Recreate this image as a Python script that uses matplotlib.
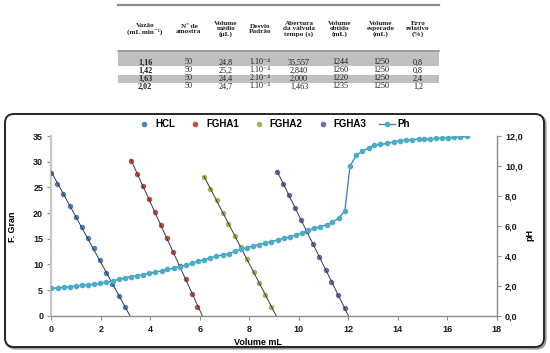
import numpy as np
import matplotlib
matplotlib.use("Agg")
import matplotlib.pyplot as plt
from matplotlib.lines import Line2D
from matplotlib.patches import FancyBboxPatch, Rectangle
from matplotlib.ticker import FuncFormatter

plt.rcParams['font.family'] = ['Liberation Sans', 'DejaVu Sans']
plt.rcParams['mathtext.fontset'] = 'stix'

# ---- table data ----
headers = ["Vazão\n(mL min⁻¹)", "Nº de\namostra", "Volume\nmédio\n(μL)", "Desvio\nPadrão",
           "Abertura\nda válvula\ntempo (s)", "Volume\nobtido\n(mL)", "Volume\nesperado\n(mL)",
           "Erro\nrelativo\n(%)"]
vazao = ["1,16", "1,42", "1,63", "2,02"]
n_amostra = ["50", "50", "50", "50"]
vol_medio = ["24,8", "25,2", "24,4", "24,7"]
desvio = ["1.10⁻⁴", "1.10⁻⁴", "2.10⁻⁴", "1.10⁻⁴"]
abertura = ["35,557", "2,840", "2,000", "1,463"]
vol_obtido = ["1244", "1260", "1220", "1235"]
vol_esperado = ["1250", "1250", "1250", "1250"]
erro = ["0,8", "0,8", "2,4", "1,2"]

# ---- chart data ----
hcl_x = [0, 0.24, 0.48, 0.75, 0.99, 1.23, 1.49, 1.72, 1.96, 2.2, 2.46, 2.72, 2.96]
hcl_y = [27.7, 25.6, 23.7, 21.4, 19.3, 17.35, 15.1, 13.1, 10.8, 8.4, 6.2, 3.9, 1.6]

fgha1_x = [3.2, 3.45, 3.69, 3.96, 4.2, 4.42, 4.68, 4.93, 5.2, 5.44, 5.67, 5.9]
fgha1_y = [30.2, 27.6, 25.2, 22.7, 20.2, 17.7, 15.05, 12.45, 9.7, 7.15, 4.2, 1.6]

fgha2_x = [6.17, 6.41, 6.68, 6.93, 7.15, 7.4, 7.68, 7.9, 8.18, 8.41, 8.62, 8.87]
fgha2_y = [27.0, 24.7, 22.55, 20.1, 17.85, 15.6, 13.35, 11.1, 8.6, 6.4, 4.1, 1.75]

fgha3_x = [9.11, 9.38, 9.61, 9.86, 10.09, 10.33, 10.59, 10.83, 11.1, 11.31, 11.58, 11.85]
fgha3_y = [27.9, 25.6, 23.5, 21.0, 18.7, 16.5, 14.0, 11.5, 8.9, 6.5, 4.0, 1.5]

ph_x = [0, 0.25, 0.49, 0.74, 0.99, 1.24, 1.48, 1.73, 1.98, 2.22, 2.47, 2.72, 2.96, 3.21,
        3.46, 3.71, 3.95, 4.2, 4.45, 4.69, 4.94, 5.19, 5.43, 5.68, 5.93, 6.18, 6.42, 6.67,
        6.92, 7.16, 7.41, 7.66, 7.9, 8.15, 8.4, 8.65, 8.89, 9.14, 9.39, 9.63, 9.88, 10.13,
        10.37, 10.62, 10.87, 11.12, 11.36, 11.61, 11.86,
        12.07, 12.32, 12.55, 12.82, 13.05, 13.3, 13.58, 13.85, 14.1, 14.34, 14.57, 14.84,
        15.07, 15.3, 15.55, 15.78, 16.05, 16.28, 16.52, 16.8]
ph_y = [1.82, 1.86, 1.90, 1.94, 1.99, 2.03, 2.07, 2.12, 2.16, 2.23, 2.32, 2.42, 2.52, 2.61,
        2.68, 2.75, 2.83, 2.91, 3.0, 3.09, 3.17, 3.27, 3.38, 3.5, 3.63, 3.75, 3.86, 3.96,
        4.06, 4.13, 4.29, 4.44, 4.54, 4.65, 4.75, 4.85, 4.95, 5.06, 5.16, 5.26, 5.4, 5.52,
        5.69, 5.83, 5.95, 6.07, 6.24, 6.51, 6.99,
        10.0, 10.7, 10.97, 11.2, 11.37, 11.44, 11.5, 11.62, 11.7, 11.74, 11.76, 11.78,
        11.79, 11.8, 11.84, 11.86, 11.89, 11.91, 11.94, 11.98]

fig = plt.figure(figsize=(5.5, 3.53), dpi=100)

# background layer in pixel units: table + rounded chart frame
bg = fig.add_axes([0, 0, 1, 1])
bg.set_xlim(0, 550)
bg.set_ylim(353, 0)
bg.axis('off')

serif = ['Liberation Serif', 'DejaVu Serif']
bg.plot([118, 439], [5, 5], color='#8c8c8c', lw=1.6)
bg.add_patch(Rectangle((118, 50), 321, 16, fc='#c0c0c0', ec='none'))
bg.plot([118, 439], [50.5, 50.5], color='#999999', lw=1.2)
bg.add_patch(Rectangle((118, 74.5), 321, 8, fc='#c0c0c0', ec='none'))

col_x = [145, 189, 226, 260, 299, 340, 381, 418]
for cx, h in zip(col_x, headers):
    bg.text(cx, 29, h, family=serif, fontsize=5.2, fontweight='bold',
            ha='center', va='center', linespacing=1.0, color='#1e1e1e')

columns = [vazao, n_amostra, vol_medio, desvio, abertura, vol_obtido, vol_esperado, erro]
row_y = [62.5, 70.5, 78.5, 86.5]
for ci, (cx, col) in enumerate(zip(col_x, columns)):
    for ry, val in zip(row_y, col):
        bg.text(cx, ry, val, family=serif, fontsize=5.9,
                fontweight='bold' if ci == 0 else 'normal',
                ha='center', va='center', color='#1e1e1e')

bg.add_patch(FancyBboxPatch((6.5, 115.5), 539, 233, boxstyle='round,pad=0,rounding_size=9',
                            lw=1.6, ec='#9a9a9a', fc='none'))
bg.add_patch(FancyBboxPatch((5, 114), 539, 233, boxstyle='round,pad=0,rounding_size=9',
                            lw=1.4, ec='#262626', fc='white'))

# chart
ax = fig.add_axes([0.0936, 0.1057, 0.8095, 0.509])
ax.patch.set_alpha(0)
ax2 = ax.twinx()

colors = {'HCL': '#4f81bd', 'FGHA1': '#c0504d', 'FGHA2': '#9bbb59', 'FGHA3': '#8064a2'}
series = [('HCL', hcl_x, hcl_y), ('FGHA1', fgha1_x, fgha1_y),
          ('FGHA2', fgha2_x, fgha2_y), ('FGHA3', fgha3_x, fgha3_y)]
for name, xs, ys in series:
    ax.plot(xs, ys, 'o', ms=2.9, color=colors[name], mec=colors[name], zorder=3)
    a, b = np.polyfit(xs, ys, 1)
    x_end = -b / a
    tx = np.array([xs[0], x_end])
    ax.plot(tx, a * tx + b, color='#3a3a3a', lw=0.7, zorder=4)

ax2.plot(ph_x, ph_y, '-', color='#4f81bd', lw=1.0, zorder=2)
ax2.plot(ph_x, ph_y, 'o', ms=3.0, color='#4bacc6', mec='#4bacc6', zorder=3)

ax.set_xlim(0, 18)
ax.set_ylim(0, 35)
ax2.set_ylim(0, 12)
ax.set_xticks(np.arange(0, 19, 2))
ax.set_yticks(np.arange(0, 36, 5))
ax2.set_yticks(np.arange(0, 13, 2))
ax2.yaxis.set_major_formatter(FuncFormatter(lambda v, p: f"{v:.1f}".replace('.', ',')))

for a_ in (ax, ax2):
    for s in a_.spines.values():
        s.set_color('#8c8c8c')
        s.set_linewidth(1.0)
    a_.spines['top'].set_visible(False)
    a_.tick_params(length=3, width=0.8, color='#8c8c8c', labelsize=6.5, pad=3,
                   labelcolor='#1a1a1a')
    for lab in a_.get_xticklabels() + a_.get_yticklabels():
        lab.set_fontweight('bold')
ax.spines['left'].set_color('#c8c8c8')
ax.spines['left'].set_linewidth(1.6)
ax.spines['right'].set_visible(False)
ax2.spines['left'].set_visible(False)
ax2.spines['bottom'].set_visible(False)
ax.tick_params(axis='x', pad=4)

fig.text(0.469, 0.03, "Volume mL", fontsize=6.5, fontweight='bold', ha='center', va='center')
fig.text(0.022, 0.357, "F. Gran", fontsize=6.5, fontweight='bold', ha='center', va='center',
         rotation=90)
fig.text(0.964, 0.334, "pH", fontsize=6.5, fontweight='bold', ha='center', va='center',
         rotation=90)

handles = [Line2D([], [], ls='none', marker='o', ms=3.0, color=colors[n]) for n, _, _ in series]
handles.append(Line2D([], [], color='#4f81bd', lw=1.0, marker='o', ms=3.0,
                      mfc='#4bacc6', mec='#4bacc6'))
labels = ['HCL', 'FGHA1', 'FGHA2', 'FGHA3', 'Ph']
fig.legend(handles, labels, loc='center', bbox_to_anchor=(0.497, 0.649), ncol=5,
           frameon=False, prop={'weight': 'bold', 'size': 7}, handlelength=1.6,
           handletextpad=0.3, columnspacing=1.3)

fig.savefig("out.png", dpi=100)
